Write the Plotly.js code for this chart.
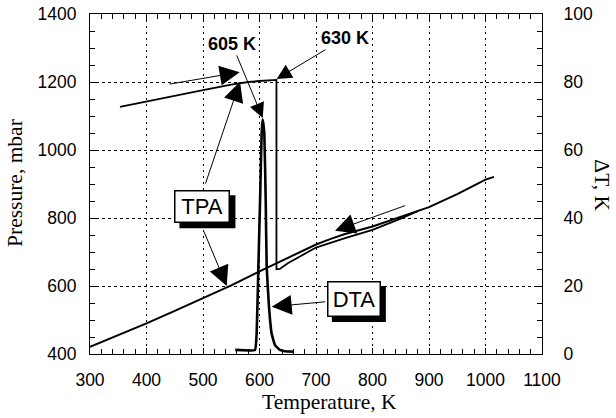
<!DOCTYPE html>
<html>
<head>
<meta charset="utf-8">
<script src="https://cdn.plot.ly/plotly-3.0.1.min.js"></script>
<style>html,body{margin:0;padding:0;background:#fff;}#chart{width:616px;height:418px;}</style>
</head>
<body>
<div id="chart"></div>
<script>
// Heating branch of the TPA curve (pressure, mbar vs temperature, K)
const heatT = [300, 350, 400, 450, 500, 550, 600, 650, 700, 725, 750, 800, 850, 880, 900, 950, 1000, 1015];
const heatP = [421, 455, 490, 527, 564, 602, 643, 683, 722, 738, 752, 775, 803, 820, 832, 870, 913, 921];
// Second TPA branch (upper plateau, jump at 630 K, lower branch merging)
const coolT = [353, 400, 450, 500, 550, 580, 600, 615, 630, 630, 636, 650, 700, 750, 800, 850, 880];
const coolP = [1127, 1143, 1161, 1176, 1192, 1200, 1203, 1205, 1206, 649, 650, 667, 713, 740, 765, 798, 820];
// DTA peak (ΔT, K vs temperature, K)
const dtaT = [557, 592, 595, 598, 601, 603.8, 605.5, 608.5, 611, 612.7, 616.8, 621.5, 627.4, 636, 645, 660];
const dtaV = [1.2, 1.2, 6.2, 25.7, 45, 65, 69, 65, 45, 25.7, 13.9, 6, 2.6, 1.2, 0.8, 0.7];
// Axis tick values
const xTicks = [300, 400, 500, 600, 700, 800, 900, 1000, 1100];
const pTicks = [400, 600, 800, 1000, 1200, 1400];
const dTicks = [0, 20, 40, 60, 80, 100];
// Annotation labels
const labels = {t605: '605 K', t630: '630 K', tpa: 'TPA', dta: 'DTA'};

const tickFont = {family: 'Liberation Sans, Arial, sans-serif', size: 17.5, color: '#000'};
const serif = {family: 'Liberation Serif, Times New Roman, serif', size: 21.5, color: '#000'};

const traces = [
  {x: heatT, y: heatP, type: 'scatter', mode: 'lines', line: {color: '#000', width: 2}, yaxis: 'y', hoverinfo: 'skip'},
  {x: coolT, y: coolP, type: 'scatter', mode: 'lines', line: {color: '#000', width: 1.8}, yaxis: 'y', hoverinfo: 'skip'},
  {x: dtaT, y: dtaV, type: 'scatter', mode: 'lines', line: {color: '#000', width: 2.6, shape: 'spline', smoothing: 0.3}, yaxis: 'y2', hoverinfo: 'skip'}
];

function arrow(x, y, ax, ay, size) {
  return {x: x, y: y, ax: ax, ay: ay, xref: 'x', yref: 'y', axref: 'x', ayref: 'y',
    text: '', showarrow: true, arrowhead: 2, arrowsize: size, arrowwidth: 1, arrowcolor: '#000'};
}
function box(x, y, text, w, h) {
  return {x: x, y: y, xref: 'x', yref: 'y', text: text, showarrow: false, width: w, height: h,
    font: {family: 'Liberation Sans, Arial, sans-serif', size: 22, color: '#000'},
    bgcolor: '#fff', bordercolor: '#000', borderwidth: 1.5, borderpad: 3};
}
function shadow(x, y, W, H) {
  return {type: 'rect', xref: 'x', yref: 'y', xsizemode: 'pixel', ysizemode: 'pixel',
    xanchor: x, yanchor: y, x0: -W / 2 + 5, x1: W / 2 + 5, y0: -H / 2 - 5, y1: H / 2 - 5,
    fillcolor: '#000', line: {width: 0}, layer: 'above'};
}

const annotations = [
  arrow(565, 1229, 438, 1193, 4),
  arrow(565.5, 1201, 503.5, 897, 4),
  arrow(542, 600, 500.5, 765, 4),
  arrow(621.6, 539, 718.9, 554, 4),
  arrow(733.6, 762.6, 860.5, 838, 4),
  {x: 605.7, y: 1094, ax: 551.3, ay: 1312, xref: 'x', yref: 'y', axref: 'x', ayref: 'y',
   text: '<b>' + labels.t605 + '</b>', showarrow: true, arrowhead: 2, arrowsize: 3, arrowwidth: 1, arrowcolor: '#000',
   font: {family: 'Liberation Sans, Arial, sans-serif', size: 18, color: '#000'}},
  {x: 630.4, y: 1209, ax: 750.8, ay: 1329, xref: 'x', yref: 'y', axref: 'x', ayref: 'y',
   text: '<b>' + labels.t630 + '</b>', showarrow: true, arrowhead: 2, arrowsize: 3, arrowwidth: 1, arrowcolor: '#000',
   font: {family: 'Liberation Sans, Arial, sans-serif', size: 18, color: '#000'}},
  box(499, 833, labels.tpa, 47, 24),
  box(767, 562, labels.dta, 45, 27),
  {xref: 'paper', yref: 'paper', x: 0.529, y: -0.142, text: 'Temperature, K', showarrow: false, font: serif, xanchor: 'center', yanchor: 'middle'},
  {xref: 'paper', yref: 'paper', x: -0.166, y: 0.503, text: 'Pressure, mbar', showarrow: false, font: serif, textangle: -90, xanchor: 'center', yanchor: 'middle'},
  {xref: 'paper', yref: 'paper', x: 1.132, y: 0.497, text: 'ΔT, K', showarrow: false, font: serif, textangle: 90, xanchor: 'center', yanchor: 'middle'}
];

const shapes = [
  shadow(499, 833, 56, 33),
  shadow(767, 562, 54, 36)
];

const layout = {
  width: 616, height: 418,
  margin: {l: 90, r: 74, t: 14, b: 64, pad: 0},
  paper_bgcolor: '#fff', plot_bgcolor: '#fff',
  showlegend: false,
  xaxis: {
    range: [300, 1100], tickvals: xTicks, ticktext: xTicks.map(String),
    ticks: 'inside', ticklen: 6, tickcolor: '#000', tickwidth: 1,
    showline: true, linecolor: '#000', linewidth: 1, mirror: 'ticks',
    showgrid: true, gridcolor: '#000', gridwidth: 1, griddash: '2px,4px',
    zeroline: false, tickfont: tickFont, ticklabelstandoff: 10,
    minor: {dtick: 20, tick0: 300, ticks: 'inside', ticklen: 5, tickcolor: '#000', showgrid: false}
  },
  yaxis: {
    range: [400, 1400], tickvals: pTicks, ticktext: pTicks.map(String),
    ticks: 'inside', ticklen: 6, tickcolor: '#000', tickwidth: 1,
    showline: true, linecolor: '#000', linewidth: 1,
    showgrid: true, gridcolor: '#000', gridwidth: 1, griddash: '3px,3px',
    zeroline: false, tickfont: tickFont, ticklabelstandoff: 9,
    minor: {dtick: 50, tick0: 400, ticks: 'inside', ticklen: 5, tickcolor: '#000', showgrid: false}
  },
  yaxis2: {
    overlaying: 'y', side: 'right',
    range: [0, 100], tickvals: dTicks, ticktext: dTicks.map(String),
    ticks: 'inside', ticklen: 6, tickcolor: '#000', tickwidth: 1,
    showline: true, linecolor: '#000', linewidth: 1,
    showgrid: false, zeroline: false, tickfont: tickFont, ticklabelstandoff: 17,
    minor: {dtick: 5, tick0: 0, ticks: 'inside', ticklen: 5, tickcolor: '#000', showgrid: false}
  },
  shapes: shapes,
  annotations: annotations
};

Plotly.newPlot('chart', traces, layout, {staticPlot: true, displayModeBar: false});
</script>
</body>
</html>
